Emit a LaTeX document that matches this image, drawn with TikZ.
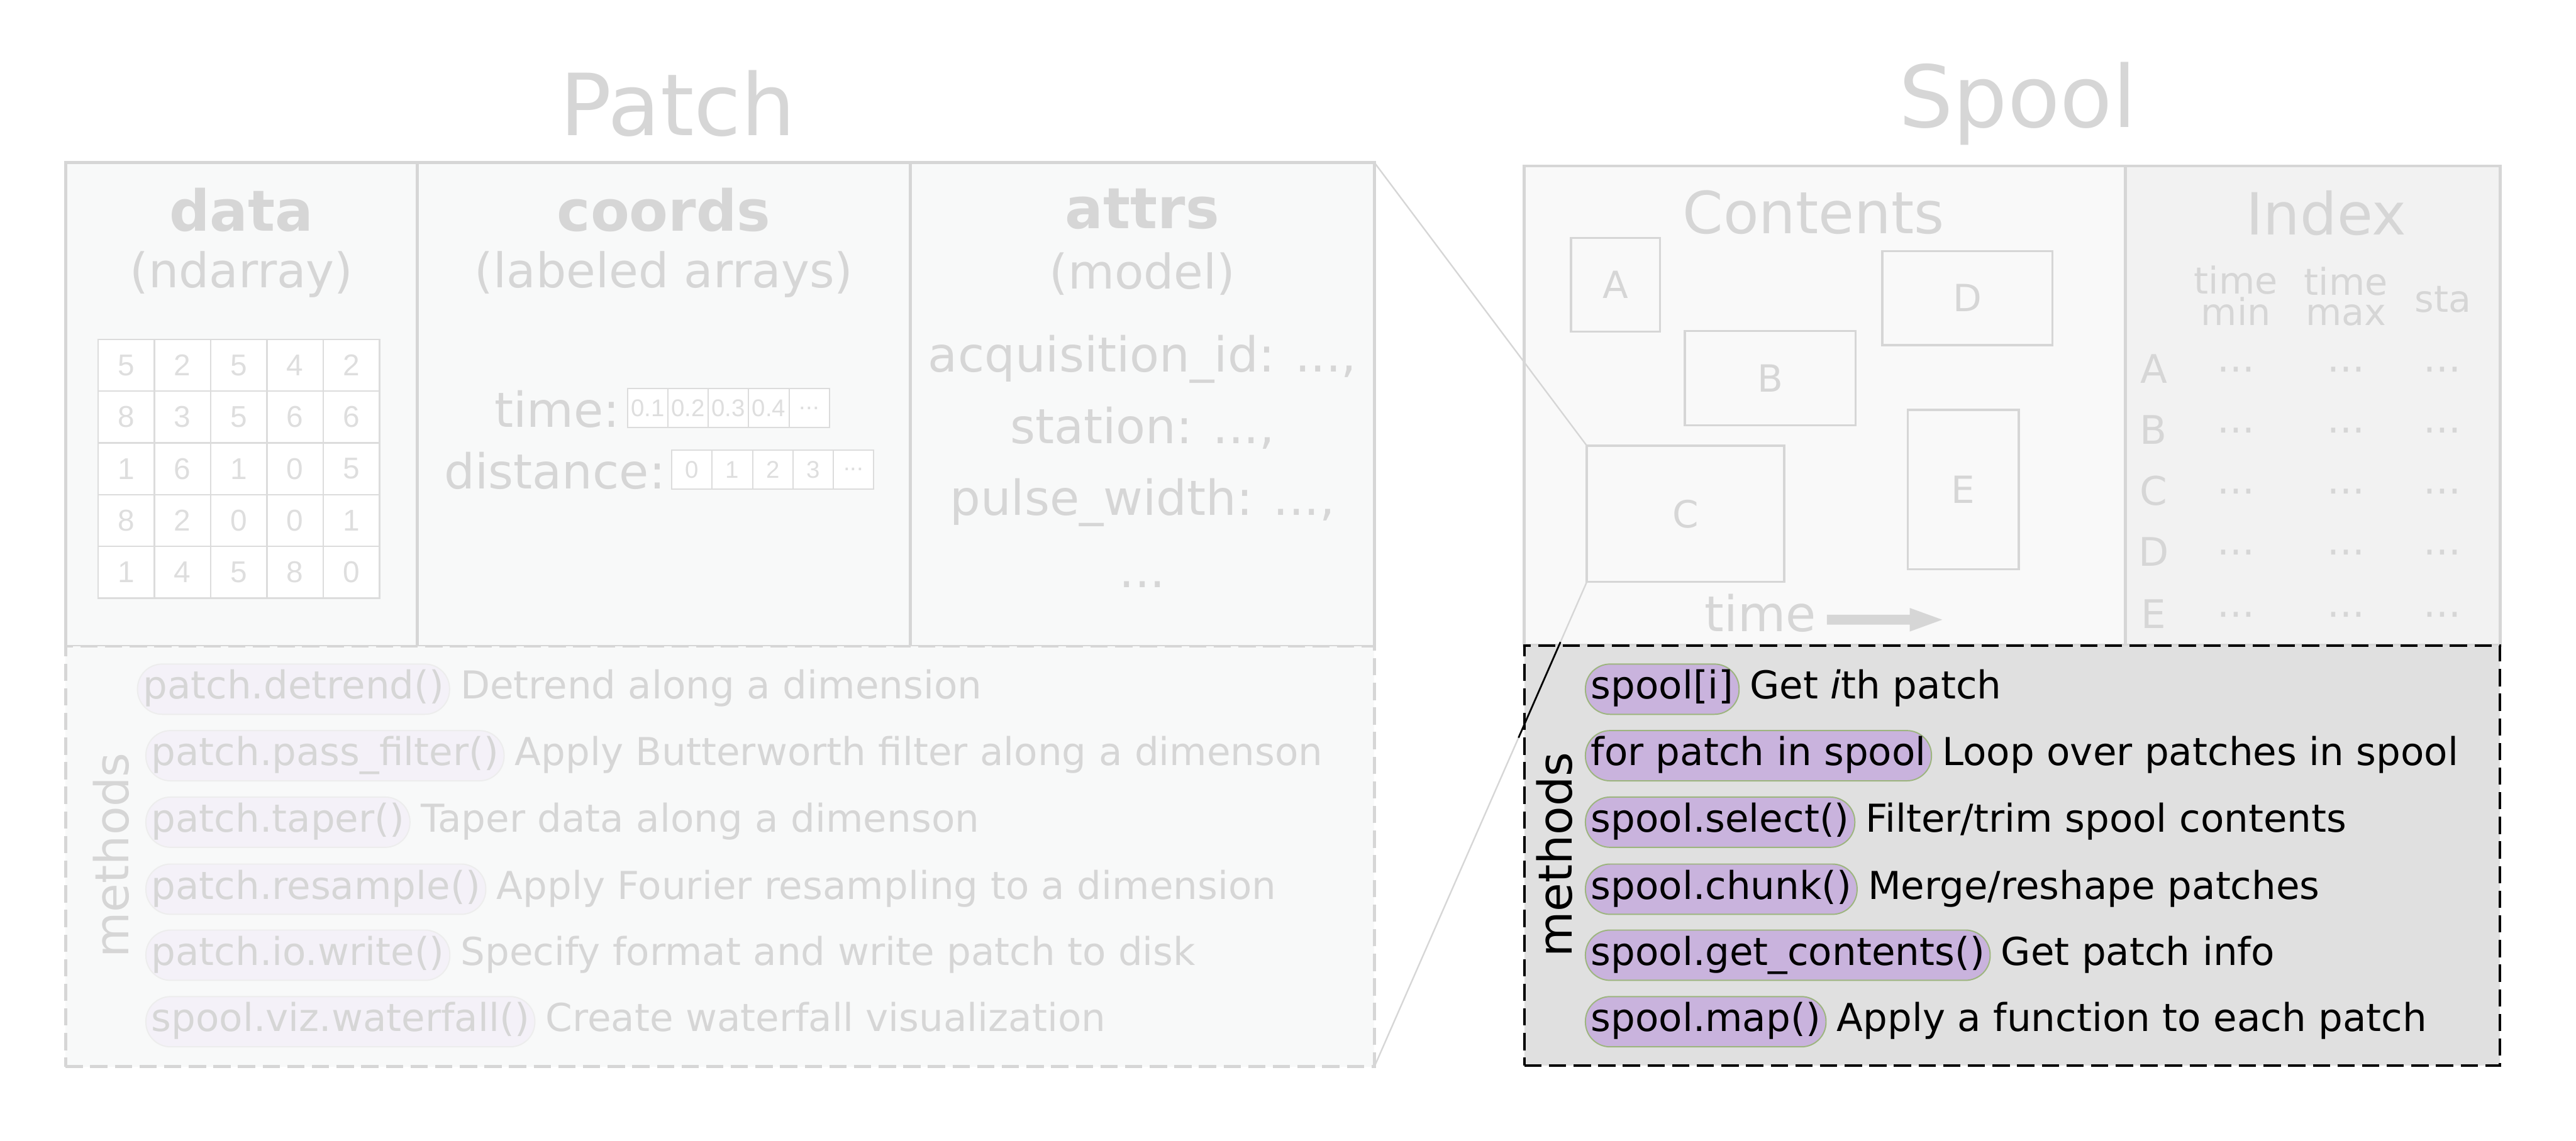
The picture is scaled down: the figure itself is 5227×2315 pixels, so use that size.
\documentclass[tikz,border=0pt]{standalone}
\usepackage{fontspec}
\setmainfont{DejaVu Sans}
\newfontfamily\arialf{Liberation Sans}
\usetikzlibrary{calc}
\definecolor{tgray}{HTML}{D6D6D6}
\definecolor{patchbg}{HTML}{F8F9F9}
\definecolor{contbg}{HTML}{F9F9F9}
\definecolor{idxbg}{HTML}{F2F2F2}
\definecolor{methbg}{HTML}{E0E0E0}
\definecolor{pillfill}{HTML}{C9B3DD}
\definecolor{pillline}{HTML}{9DB57F}
\definecolor{fpill}{HTML}{F4F1F8}
\definecolor{fpilll}{HTML}{EDEDED}
\definecolor{gridnum}{HTML}{DEDEDE}
\definecolor{gridline}{HTML}{DCDCDC}
\newcommand\myfs[1]{\fontsize{#1}{#1}\selectfont}
\tikzset{
  every node/.style={inner sep=0pt, outer sep=0pt},
  lbl/.style={text=tgray, anchor=base},
  frame/.style={draw=tgray, line width=0.6pt, anchor=north west},
  subbox/.style={draw=tgray, line width=0.45pt, fill=contbg, text=tgray, font=\myfs{7.6}},
  gcell/.style={draw=gridline, line width=0.3pt, fill=white, text=gridnum, font=\arialf\myfs{6.1}, minimum width=11.42pt, minimum height=10.5pt},
  acell/.style={draw=gridline, line width=0.25pt, fill=white, text=gridnum, font=\arialf\myfs{4.9}, minimum width=8.2pt, minimum height=7.9pt},
  pill/.style={rounded corners=5pt, minimum height=10.2pt, inner xsep=1.1pt, inner ysep=0pt, text height=5.9pt, text depth=1.9pt, anchor=west, font=\myfs{7.8}, line width=0.25pt},
  ppill/.style={pill, draw=fpilll, fill=fpill, text=tgray},
  spill/.style={pill, draw=pillline, fill=pillfill, text=black},
  pdesc/.style={anchor=base west, font=\myfs{7.8}, text=tgray},
  sdesc/.style={anchor=base west, font=\myfs{7.8}, text=black},
  conn/.style={draw=tgray, line width=0.3pt},
}
\begin{document}
\begin{tikzpicture}[x=0.1pt, y=-0.1pt]
\useasboundingbox (0,0) rectangle (5227,2315);
\fill[white] (0,0) rectangle (5227,2315);

% ---------- Patch ----------
\node[lbl, font=\myfs{17.4}] (tpatch) at (1375,275) {Patch};
\node[frame, fill=patchbg, minimum width=265.6pt, minimum height=98.2pt] (patchup) at (133,330) {};
\node[frame, fill=patchbg, dash pattern=on 3.5pt off 1.5pt, minimum width=265.6pt, minimum height=85.3pt] (patchmeth) at (133,1312) {};
\draw[draw=tgray, line width=0.6pt] (847,330) -- (847,1312) (1847,330) -- (1847,1312);

% data
\node[lbl, font=\bfseries\myfs{11.5}] (tdata) at (490,469) {data};
\node[lbl, font=\myfs{9.7}] (tnd) at (490,584) {(ndarray)};
\foreach \r [count=\i from 0] in {{5,2,5,4,2},{8,3,5,6,6},{1,6,1,0,5},{8,2,0,0,1},{1,4,5,8,0}} {
  \foreach \v [count=\j from 0] in \r {
    \node[gcell] (cell-\i-\j) at ({256.1+114.2*\j},{741.5+105*\i}) {\v};
  }
}

% coords
\node[lbl, font=\bfseries\myfs{11.5}] (tcoords) at (1347,469) {coords};
\node[lbl, font=\myfs{9.7}] (tla) at (1347,584) {(labeled arrays)};
\node[text=tgray, anchor=base east, font=\myfs{9.8}] (ltime) at (1258,867) {time:};
\node[text=tgray, anchor=base east, font=\myfs{9.8}] (ldist) at (1350,992) {distance:};
\node[acell] (tc-0) at (1314,828.5) {0.1};
\node[acell] (tc-1) at (1396,828.5) {0.2};
\node[acell] (tc-2) at (1478,828.5) {0.3};
\node[acell] (tc-3) at (1560,828.5) {0.4};
\node[acell] (tc-4) at (1642,828.5) {...};
\node[acell] (dc-0) at (1404,953) {0};
\node[acell] (dc-1) at (1486,953) {1};
\node[acell] (dc-2) at (1568,953) {2};
\node[acell] (dc-3) at (1650,953) {3};
\node[acell] (dc-4) at (1732,953) {...};

% attrs
\node[lbl, font=\bfseries\myfs{11.5}] (tattrs) at (2318,464) {attrs};
\node[lbl, font=\myfs{9.7}] (tmodel) at (2318,587) {(model)};
\node[lbl, font=\myfs{9.8}] (at1) at (2318,755) {acquisition\_id: ...,};
\node[lbl, font=\myfs{9.8}] (at2) at (2318,900) {station: ...,};
\node[lbl, font=\myfs{9.8}] (at3) at (2318,1046) {pulse\_width: ...,};
\node[lbl, font=\myfs{9.8}] (at4) at (2318,1192) {...};

% patch methods
\node[text=tgray, font=\myfs{9.5}, rotate=90] (pmlabel) at (225,1736) {methods};
\node[ppill] (pp1) at (279,1399) {patch.detrend()};
\node[ppill] (pp2) at (296,1534) {patch.pass\_filter()};
\node[ppill] (pp3) at (296,1669) {patch.taper()};
\node[ppill] (pp4) at (296,1805) {patch.resample()};
\node[ppill] (pp5) at (296,1939) {patch.io.write()};
\node[ppill] (pp6) at (296,2074) {spool.viz.waterfall()};
\node[pdesc] (pd1) at ([xshift=2.2pt]pp1.base east) {Detrend along a dimension};
\node[pdesc] (pd2) at ([xshift=2.2pt]pp2.base east) {Apply Butterworth filter along a dimenson};
\node[pdesc] (pd3) at ([xshift=2.2pt]pp3.base east) {Taper data along a dimenson};
\node[pdesc] (pd4) at ([xshift=2.2pt]pp4.base east) {Apply Fourier resampling to a dimension};
\node[pdesc] (pd5) at ([xshift=2.2pt]pp5.base east) {Specify format and write patch to disk};
\node[pdesc] (pd6) at ([xshift=2.2pt]pp6.base east) {Create waterfall visualization};

% ---------- Spool ----------
\node[lbl, font=\myfs{17.4}] (tspool) at (4094,258) {Spool};
\node[frame, fill=contbg, minimum width=122pt, minimum height=97.3pt] (contents) at (3093,337) {};
\node[frame, fill=idxbg, minimum width=76pt, minimum height=97.3pt] (index) at (4313,337) {};
\node[frame, draw=black, fill=methbg, dash pattern=on 3.5pt off 1.5pt, line width=0.5pt, minimum width=198pt, minimum height=85.3pt] (spoolmeth) at (3093,1310) {};

\node[lbl, font=\myfs{11.8}] (tcont) at (3680,474) {Contents};
\node[subbox, minimum width=18pt, minimum height=19pt] (bA) at (3278,578) {A};
\node[subbox, minimum width=34.6pt, minimum height=19.1pt] (bB) at (3592,767.5) {B};
\node[subbox, minimum width=34.55pt, minimum height=19.05pt] (bD) at (3992,605) {D};
\node[subbox, minimum width=40.05pt, minimum height=27.66pt] (bC) at (3420,1043) {C};
\node[subbox, minimum width=22.5pt, minimum height=32.36pt] (bE) at (3983.5,994) {E};
\node[lbl, font=\myfs{10}] (ttime) at (3572,1282) {time};
\fill[tgray] (3707,1248) -- (3875,1248) -- (3875,1234) -- (3941,1258) -- (3875,1282) -- (3875,1268) -- (3707,1268) -- cycle;

% index
\node[lbl, font=\myfs{11.8}] (tindex) at (4720,476) {Index};
\node[lbl, font=\myfs{7.5}] (h1a) at (4537,596) {time};
\node[lbl, font=\myfs{7.5}] (h1b) at (4537,660) {min};
\node[lbl, font=\myfs{7.5}] (h2a) at (4760,599) {time};
\node[lbl, font=\myfs{7.5}] (h2b) at (4760,661) {max};
\node[lbl, font=\myfs{7.5}] (h3) at (4957,633) {sta};
\foreach \L/\y in {A/778,B/902,C/1025,D/1149,E/1276} {
  \node[lbl, font=\myfs{8}] (row-\L) at (4370,\y) {\L};
  \node[lbl, font=\myfs{8}] (d1-\L) at (4537,\y) {···};
  \node[lbl, font=\myfs{8}] (d2-\L) at (4760,\y) {···};
  \node[lbl, font=\myfs{8}] (d3-\L) at (4956,\y) {···};
}

% spool methods
\node[text=black, font=\myfs{9.5}, rotate=90] (smlabel) at (3154,1735) {methods};
\node[spill] (sp1) at (3217,1399) {spool[i]};
\node[spill] (sp2) at (3217,1534) {for patch in spool};
\node[spill] (sp3) at (3217,1669) {spool.select()};
\node[spill] (sp4) at (3217,1805) {spool.chunk()};
\node[spill] (sp5) at (3217,1939) {spool.get\_contents()};
\node[spill] (sp6) at (3217,2074) {spool.map()};
\node[sdesc] (sd1) at ([xshift=2.2pt]sp1.base east) {Get \textit{i}th patch};
\node[sdesc] (sd2) at ([xshift=2.2pt]sp2.base east) {Loop over patches in spool};
\node[sdesc] (sd3) at ([xshift=2.2pt]sp3.base east) {Filter/trim spool contents};
\node[sdesc] (sd4) at ([xshift=2.2pt]sp4.base east) {Merge/reshape patches};
\node[sdesc] (sd5) at ([xshift=2.2pt]sp5.base east) {Get patch info};
\node[sdesc] (sd6) at ([xshift=2.2pt]sp6.base east) {Apply a function to each patch};

% ---------- connectors ----------
\draw[conn] (patchup.north east) -- (bC.north west);
\draw[conn] (bC.south west) -- (patchmeth.south east);
\draw[black, line width=0.35pt] ($(bC.south west)!0.124!(patchmeth.south east)$) -- ($(bC.south west)!0.3215!(patchmeth.south east)$);
\end{tikzpicture}
\end{document}
